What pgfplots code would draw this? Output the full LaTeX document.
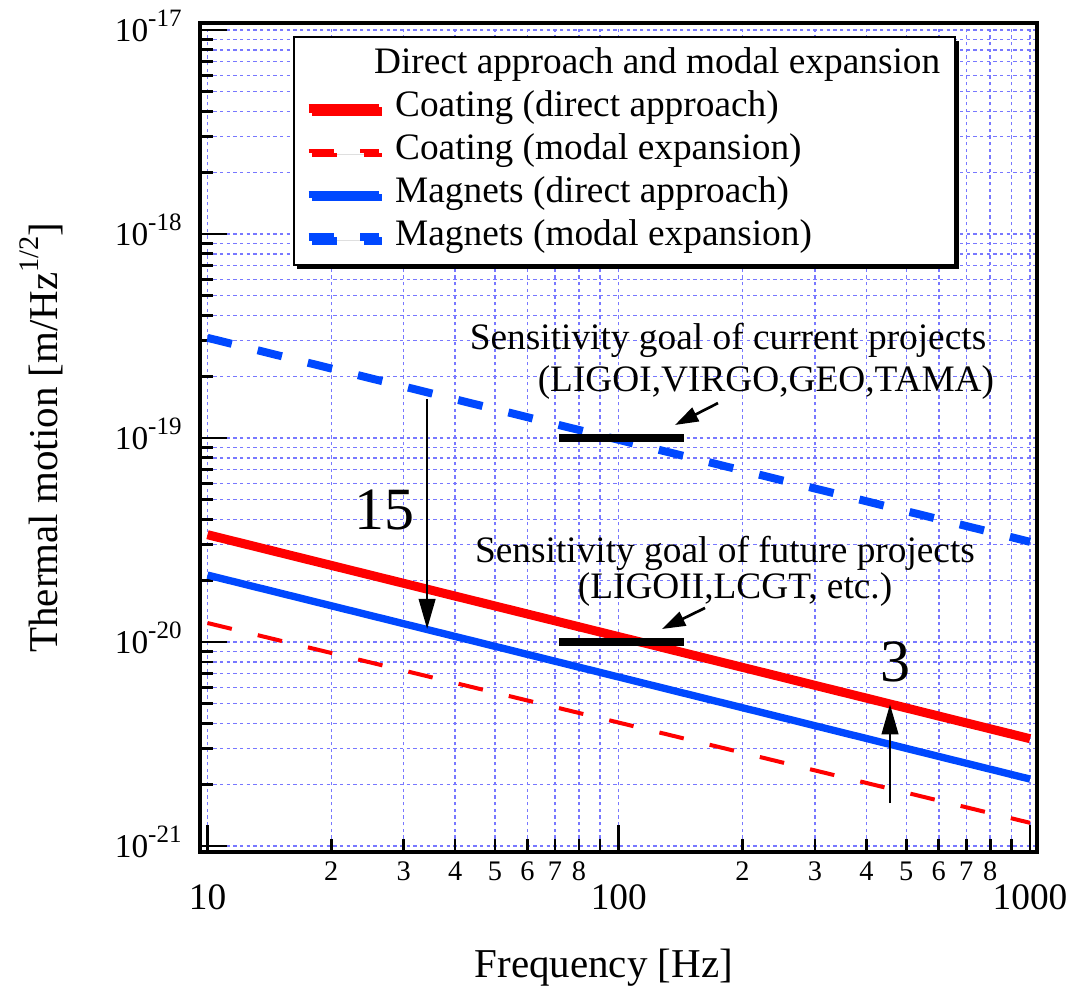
\documentclass[border=0pt]{standalone}
\usepackage{fontspec}
\setmainfont{Liberation Serif}
\usepackage{pgfplots}
\pgfplotsset{compat=1.18}
\usetikzlibrary{arrows.meta,shadows}
\definecolor{myred}{RGB}{255,0,0}
\definecolor{myblue}{RGB}{0,72,255}
\definecolor{gridblue}{RGB}{120,120,255}
\newcommand{\ytl}[1]{10\raisebox{4.5pt}{\fontsize{7.5}{8}\selectfont #1}}
\begin{document}
\begin{tikzpicture}
\begin{axis}[
  scale only axis, width=251.1pt, height=248.7pt,
  xmode=log, ymode=log,
  xmin=9.589, xmax=1039.9, ymin=9.345e-22, ymax=1.082e-17,
  axis line style={line width=1pt},
  tick align=inside, xtick pos=bottom, ytick pos=left,
  major tick length=8pt, minor tick length=4pt,
  every tick/.style={black, line width=0.8pt},
  grid=both,
  major grid style={gridblue, line width=0.42pt, dash pattern=on 1pt off 1pt},
  minor grid style={gridblue, line width=0.42pt, dash pattern=on 1pt off 1pt},
  xtick={10,100,1000}, xticklabels={10,100,1000},
  xticklabel style={font=\fontsize{11.2}{13}\selectfont, anchor=north, yshift=-6.2pt},
  extra x ticks={20,30,40,50,60,70,80,200,300,400,500,600,700,800},
  extra x tick labels={2,3,4,5,6,7,8,2,3,4,5,6,7,8},
  extra x tick style={grid=none, major tick length=0pt,
     xticklabel style={yshift=6.9pt, font=\fontsize{8.5}{10}\selectfont}},
  ytick={1e-21,1e-20,1e-19,1e-18,1e-17},
  yticklabels={\ytl{-21},\ytl{-20},\ytl{-19},\ytl{-18},\ytl{-17}},
  yticklabel style={font=\fontsize{10}{12}\selectfont, anchor=base east, xshift=-2pt, yshift=-3.4pt},
  xlabel={Frequency [Hz]},
  ylabel={Thermal motion [m/Hz\raisebox{5.5pt}{\fontsize{8.5}{9}\selectfont 1/2}]},
  every axis x label/.style={at={([xshift=-4.4pt,yshift=-34.8pt]rel axis cs:0.5,0)}, anchor=center, font=\fontsize{12.3}{14}\selectfont},
  every axis y label/.style={at={([xshift=-47.6pt]rel axis cs:0,0.5)}, anchor=center, rotate=90, font=\fontsize{12.3}{14}\selectfont},
  legend style={at={(rel axis cs:0.1111,0.9843)}, anchor=north west,
     draw=black, line width=0.7pt, fill=white,
     drop shadow={shadow xshift=1pt, shadow yshift=-1pt, fill=black, opacity=1},
     font=\fontsize{11.2}{13}\selectfont,
     inner xsep=3pt, inner ysep=3pt, row sep=2.1pt, column sep=3.6pt,
     nodes={inner sep=0pt, text height=8pt, text depth=2.8pt}},
  legend cell align=left,
  legend image code/.code={\draw[#1] (0pt,0pt) -- (21pt,0pt);},
]
\addlegendimage{empty legend}
\addlegendentry{\makebox[165pt][l]{\hspace*{-6.3pt}Direct approach and modal expansion}}

\addplot[myred, line width=2.7pt] coordinates {(10,3.36e-20) (100,1.063e-20) (1000,3.36e-21)};
\addlegendentry{Coating (direct approach)}
\addplot[myred, line width=1.2pt, dash pattern=on 7.5pt off 8pt] coordinates {(10,1.24e-20) (100,4.03e-21) (1000,1.3e-21)};
\addlegendentry{Coating (modal expansion)}
\addplot[myblue, line width=2.2pt] coordinates {(10,2.13e-20) (100,6.74e-21) (1000,2.13e-21)};
\addlegendentry{Magnets (direct approach)}
\addplot[myblue, line width=2.4pt, dash pattern=on 7.5pt off 8pt] coordinates {(10,3.1e-19) (100,9.8e-20) (1000,3.1e-20)};
\addlegendentry{Magnets (modal expansion)}

\addplot[black, line width=2.6pt, forget plot] coordinates {(71.6,1e-19) (144.1,1e-19)};
\addplot[black, line width=2.6pt, forget plot] coordinates {(71.6,1e-20) (144.1,1e-20)};

\draw[-{Triangle[length=9pt,width=5pt]}, line width=0.6pt] (axis cs:34.2,1.55e-19) -- (axis cs:34.2,1.16e-20);
\draw[-{Triangle[length=9pt,width=5pt]}, line width=0.6pt] (axis cs:456.6,1.625e-21) -- (axis cs:456.6,4.95e-21);
\draw[-{Triangle[length=7pt,width=4.5pt]}, line width=0.8pt] (axis cs:174.3,1.484e-19) -- (axis cs:137.0,1.159e-19);
\draw[-{Triangle[length=7pt,width=4.5pt]}, line width=0.8pt] (axis cs:162.1,1.47e-20) -- (axis cs:127.4,1.159e-20);

\node[font=\fontsize{18}{21}\selectfont] at (axis cs:27.0,4.44e-20) {15};
\node[font=\fontsize{18}{21}\selectfont] at (axis cs:470,7.98e-21) {3};

\node[font=\fontsize{11.2}{13}\selectfont] at (axis cs:184.4,3.02e-19) {Sensitivity goal of current projects};
\node[font=\fontsize{11.2}{13}\selectfont] at (axis cs:228,1.862e-19) {(LIGOI,VIRGO,GEO,TAMA)};
\node[font=\fontsize{11.2}{13}\selectfont] at (axis cs:181.3,2.73e-20) {Sensitivity goal of future projects};
\node[font=\fontsize{11.2}{13}\selectfont] at (axis cs:191.8,1.8e-20) {(LIGOII,LCGT, etc.)};

\coordinate (LL) at (rel axis cs:0,0);
\coordinate (UR) at (rel axis cs:1,1);
\end{axis}
\pgfresetboundingbox
\path[use as bounding box] ([xshift=-60pt,yshift=-41.1pt]LL) rectangle ([xshift=10.2pt,yshift=6.9pt]UR);
\end{tikzpicture}
\end{document}
